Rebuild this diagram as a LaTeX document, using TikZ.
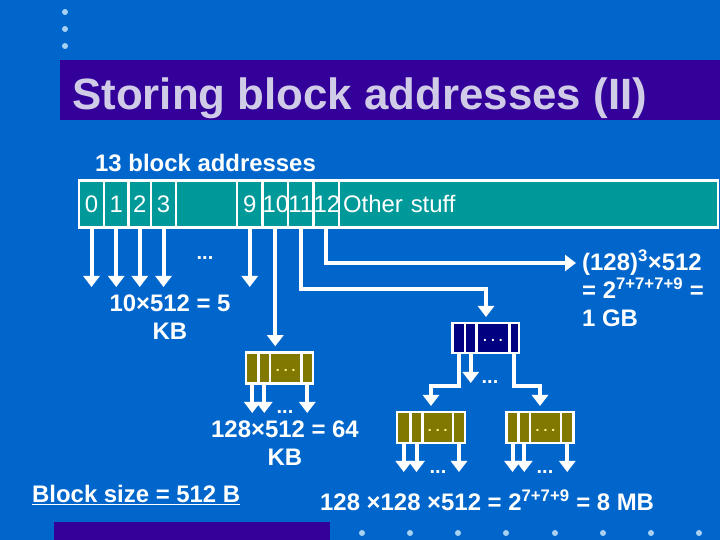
\documentclass[tikz,border=0pt]{standalone}
\usepackage{fontspec}
\setmainfont{Liberation Sans}
\usetikzlibrary{arrows.meta}
\definecolor{slidebg}{HTML}{0066CC}
\definecolor{barpurple}{HTML}{330099}
\definecolor{titlegrey}{HTML}{D0CCE8}
\definecolor{inodeteal}{HTML}{009999}
\definecolor{ptrolive}{HTML}{807800}
\definecolor{ptrnavy}{HTML}{000080}
\definecolor{dotblue}{HTML}{A8D0F0}
\definecolor{dotyellow}{HTML}{FFFF99}
\begin{document}
\begin{tikzpicture}[>={Triangle[width=16bp,length=11bp]},line join=miter,
  slot/.style={draw=white,line width=2.5bp,fill=inodeteal,minimum height=47bp,inner sep=0pt,text=white,font=\fontsize{24}{26}\selectfont},
  ptr/.style={draw=white,line width=2.5bp,minimum height=31bp,inner sep=0pt},
  link/.style={white,line width=4bp,->},
  txt/.style={text=white,inner sep=0pt,font=\fontsize{24}{28}\selectfont\bfseries},
  etc/.style={text=white,inner sep=0pt,font=\fontsize{20}{20}\selectfont\bfseries},
  subetc/.style={font=\fontsize{14}{14}\selectfont\bfseries}]
\useasboundingbox (0,0) rectangle (720bp,540bp);
\fill [slidebg] (0,0) rectangle (720bp,540bp);
%% slide decoration
\fill [dotblue] (65bp,528bp) circle (3bp) (65bp,511bp) circle (3bp) (65bp,494bp) circle (3bp);
\foreach \x in {362,410,458,506,555,603,651,699}
  \fill [dotblue] (\x bp,7bp) circle (3bp);
\fill [barpurple] (60bp,420bp) rectangle (720bp,480bp);
\fill [barpurple] (54bp,0bp) rectangle (330bp,18bp);
\node (title) at (72bp,430bp) [anchor=base west,inner sep=0pt,text=titlegrey,font=\fontsize{44}{44}\selectfont\bfseries] {Storing block addresses (II)};
%% i-node
\node (heading) at (95bp,377bp) [txt,anchor=west] {13 block addresses};
\node (cell_0) at (91.5bp,336bp) [slot,minimum width=25bp] {0};
\node (cell_1) at (116.25bp,336bp) [slot,minimum width=24.5bp] {1};
\node (cell_2) at (139.75bp,336bp) [slot,minimum width=22.5bp] {2};
\node (cell_3) at (163.5bp,336bp) [slot,minimum width=25bp] {3};
\node (cell_gap) at (206.5bp,336bp) [slot,minimum width=61bp] {};
\node (cell_9) at (249.75bp,336bp) [slot,minimum width=25.5bp] {9};
\node (cell_10) at (275.25bp,336bp) [slot,minimum width=25.5bp,text width=25.5bp,align=center] {10};
\node (cell_11) at (300.75bp,336bp) [slot,minimum width=25.5bp,text width=25.5bp,align=center] {11};
\node (cell_12) at (326.25bp,336bp) [slot,minimum width=25.5bp,text width=25.5bp,align=center] {12};
\node (cell_other) at (528.5bp,336bp) [slot,minimum width=379bp,text width=371bp] {Other stuff};
%% pointer blocks
\node (ind1_a) at (252.25bp,172bp) [ptr,fill=ptrolive,minimum width=12.5bp] {};
\node (ind1_b) at (264.25bp,172bp) [ptr,fill=ptrolive,minimum width=11.5bp] {};
\node (ind1_c) at (285.75bp,172bp) [ptr,fill=ptrolive,minimum width=31.5bp,subetc,text=dotyellow] {\raisebox{-8bp}{.\hspace{4bp}.\hspace{4bp}.}};
\node (ind1_d) at (307.25bp,172bp) [ptr,fill=ptrolive,minimum width=11.5bp] {};
\node (top_a) at (458.75bp,202bp) [ptr,fill=ptrnavy,minimum width=12.5bp,minimum height=30bp] {};
\node (top_b) at (470.75bp,202bp) [ptr,fill=ptrnavy,minimum width=11.5bp,minimum height=30bp] {};
\node (top_c) at (493bp,202bp) [ptr,fill=ptrnavy,minimum width=33bp,minimum height=30bp,subetc,text=white] {\raisebox{-8bp}{.\hspace{4bp}.\hspace{4bp}.}};
\node (top_d) at (514.25bp,202bp) [ptr,fill=ptrnavy,minimum width=9.5bp,minimum height=30bp] {};
\node (leaf1_a) at (403.75bp,112.5bp) [ptr,fill=ptrolive,minimum width=13.5bp] {};
\node (leaf1_b) at (416.5bp,112.5bp) [ptr,fill=ptrolive,minimum width=12bp] {};
\node (leaf1_c) at (437.75bp,112.5bp) [ptr,fill=ptrolive,minimum width=30.5bp,subetc,text=dotyellow] {\raisebox{-8bp}{.\hspace{4bp}.\hspace{4bp}.}};
\node (leaf1_d) at (459bp,112.5bp) [ptr,fill=ptrolive,minimum width=12bp] {};
\node (leaf2_a) at (512.5bp,112.5bp) [ptr,fill=ptrolive,minimum width=12bp] {};
\node (leaf2_b) at (524.25bp,112.5bp) [ptr,fill=ptrolive,minimum width=11.5bp] {};
\node (leaf2_c) at (545.5bp,112.5bp) [ptr,fill=ptrolive,minimum width=31bp,subetc,text=dotyellow] {\raisebox{-8bp}{.\hspace{4bp}.\hspace{4bp}.}};
\node (leaf2_d) at (567.25bp,112.5bp) [ptr,fill=ptrolive,minimum width=12.5bp] {};
%% arrow ends
\coordinate (row_a) at (0,253bp);
\coordinate (row_b) at (0,127bp);
\coordinate (row_c) at (0,157bp);
\coordinate (row_d) at (0,68bp);
\coordinate (top_in) at (486bp,223bp);
\coordinate (gb_in) at (576bp,277bp);
\coordinate (leaf1_in) at (431bp,134bp);
\coordinate (leaf2_in) at (540bp,134bp);
%% labels
\node (gap_etc) at (205bp,282bp) [etc] {...};
\node (kb5) at (170bp,223bp) [txt,align=center] {10×512 = 5\\KB};
\node (gb) at (582bp,252bp) [txt,anchor=west,align=left] {(128)\textsuperscript{3}×512\\= 2\textsuperscript{7+7+7+9} =\\1 GB};
\node (top_etc) at (490bp,158bp) [etc] {...};
\node (ind1_etc) at (285bp,128bp) [etc] {...};
\node (kb64) at (285bp,97bp) [txt,align=center] {128×512 = 64\\KB};
\node (leaf1_etc) at (438bp,68bp) [etc] {...};
\node (leaf2_etc) at (545bp,68bp) [etc] {...};
\node (blocksize) at (32bp,45bp) [txt,anchor=west] {\underline{Block size = 512 B}};
\node (mb8) at (320bp,40bp) [txt,anchor=west] {128 ×128 ×512 = 2\textsuperscript{7+7+9} = 8 MB};
%% pointers
\draw [link] (cell_0.south) -- (cell_0.south |- row_a);
\draw [link] (cell_1.south) -- (cell_1.south |- row_a);
\draw [link] (cell_2.south) -- (cell_2.south |- row_a);
\draw [link] (cell_3.south) -- (cell_3.south |- row_a);
\draw [link] (cell_9.south) -- (cell_9.south |- row_a);
\draw [link,shorten >=5bp] (cell_10.south) -- (cell_10.south |- ind1_b.north);
\draw [link] (cell_11.south) -- ++(0,-60.5bp) -| (top_in);
\draw [link] (cell_12.south) |- (gb_in);
\draw [link] (ind1_a.south) -- (ind1_a.south |- row_b);
\draw [link] (ind1_b.south) -- (ind1_b.south |- row_b);
\draw [link] (ind1_d.south) -- (ind1_d.south |- row_b);
\draw [link] (top_a.south) -- ++(0,-32bp) -| (leaf1_in);
\draw [link] (top_b.south) -- (top_b.south |- row_c);
\draw [link] (top_d.south) -- ++(0,-32bp) -| (leaf2_in);
\draw [link] (leaf1_a.south) -- (leaf1_a.south |- row_d);
\draw [link] (leaf1_b.south) -- (leaf1_b.south |- row_d);
\draw [link] (leaf1_d.south) -- (leaf1_d.south |- row_d);
\draw [link] (leaf2_a.south) -- (leaf2_a.south |- row_d);
\draw [link] (leaf2_b.south) -- (leaf2_b.south |- row_d);
\draw [link] (leaf2_d.south) -- (leaf2_d.south |- row_d);
%
\end{tikzpicture}
\end{document}
